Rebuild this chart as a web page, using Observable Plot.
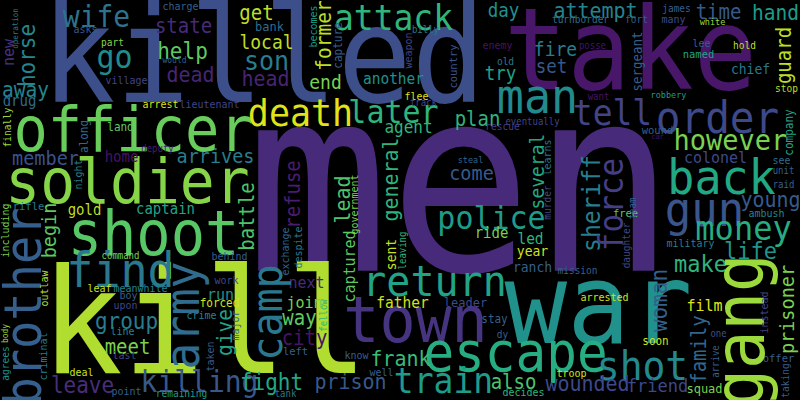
<!DOCTYPE html>
<html>
<head>
<meta charset="utf-8">
<script src="https://cdn.jsdelivr.net/npm/d3@7"></script>
<script src="https://cdn.jsdelivr.net/npm/@observablehq/plot@0.6"></script>
<style>
  html, body { margin: 0; padding: 0; background: #000; }
  #chart { width: 800px; height: 400px; overflow: hidden; }
</style>
</head>
<body>
<div id="chart"></div>
<script>
// [word, x, y, font size, colour shade (0..1 on viridis)]
const largeWords = [
  ["killed", 263, 59, 123, .24],
  ["take", 630, 52, 105, .06],
  ["men", 460, 188, 238, .12],
  ["war", 598, 307, 104, .50],
  ["kill", 204, 325, 136, .88],
  ["officer", 133, 131, 57, .77],
  ["soldier", 127, 182, 58, .82],
  ["shoot", 153, 235, 57, .74],
  ["find", 120, 271, 45, .40],
  ["town", 415, 321, 60, .15],
  ["return", 434, 282, 40, .58],
  ["escape", 515, 353, 51, .62],
  ["train", 443, 381, 33, .55],
  ["shot", 642, 366, 38, .47],
  ["order", 717, 118, 41, .22],
  ["man", 537, 97, 45, .48],
  ["tell", 612, 113, 33, .20],
  ["back", 721, 178, 45, .60],
  ["gun", 704, 210, 44, .26],
  ["death", 300, 113, 35, .95],
  ["later", 393, 112, 30, .65],
  ["attack", 393, 18, 33, .65],
  ["money", 743, 228, 32, .62],
  ["police", 491, 218, 30, .55],
  ["go", 114, 57, 30, .48]
];

const mediumWords = [
  ["wife", 96, 17, 28, .38],
  ["state", 183, 26, 19, .12],
  ["help", 182, 51, 21, .75],
  ["dead", 190, 75, 20, .10],
  ["away", 25, 90, 19.5, .45],
  ["drug", 19, 101, 14, .35],
  ["member", 45, 158, 18.5, .25],
  ["home", 121, 157, 14, .05],
  ["arrives", 215, 156, 18.5, .42],
  ["gold", 84, 210, 14, .90],
  ["captain", 165, 209, 14, .58],
  ["group", 126, 321, 21, .42],
  ["meet", 127, 347, 19, .80],
  ["leave", 82, 385, 21, .13],
  ["killing", 199, 382, 28, .27],
  ["run", 220, 294, 15, .50],
  ["join", 304, 302, 15, .80],
  ["next", 306, 282, 15, .12],
  ["way", 299, 318, 19, .75],
  ["city", 304, 338, 19, .05],
  ["fight", 271, 382, 21, .60],
  ["prison", 350, 382, 20, .27],
  ["father", 402, 302, 14.5, .93],
  ["frank", 400, 359, 20, .68],
  ["also", 513, 382, 19, .72],
  ["wounded", 587, 384, 20, .22],
  ["friend", 657, 386, 17, .22],
  ["get", 256, 13, 19, .90],
  ["local", 266, 42, 18, .90],
  ["son", 266, 61, 25, .42],
  ["head", 265, 79, 20, .10],
  ["end", 325, 82, 18, .80],
  ["another", 393, 78, 14.5, .50],
  ["agent", 408, 127, 16, .65],
  ["day", 503, 10, 17.5, .50],
  ["attempt", 595, 11, 20, .45],
  ["fire", 555, 49, 18, .42],
  ["set", 551, 66, 17.5, .27],
  ["try", 500, 73, 17.5, .57],
  ["plan", 477, 119, 19, .65],
  ["time", 718, 12, 19, .28],
  ["hand", 775, 13, 19.5, .55],
  ["however", 730, 140, 27, .80],
  ["colonel", 715, 157, 15, .22],
  ["young", 770, 200, 20, .28],
  ["life", 750, 251, 22, .52],
  ["make", 700, 264, 22, .65],
  ["come", 471, 173, 18.5, .28],
  ["ride", 491, 233, 14, .80],
  ["led", 530, 238, 14.5, .65],
  ["year", 532, 251, 13, .93],
  ["ranch", 532, 267, 13, .30],
  ["film", 704, 305, 15, .95],
  ["chief", 750, 69, 13, .40]
];

const smallWords = [
  ["asks", 85, 29, 10, .28],
  ["part", 112, 42, 9.5, .82],
  ["charge", 180, 6, 10, .30],
  ["would", 174, 60, 8, .30],
  ["village", 126, 80, 10, .20],
  ["arrest", 160, 104, 10, .95],
  ["lieutenant", 209, 104, 10, .20],
  ["land", 120, 127, 11, .75],
  ["deputy", 157, 148, 9, .08],
  ["rifle", 28, 206, 10.5, .42],
  ["command", 120, 255, 9, .80],
  ["leaf", 99, 288, 10, .92],
  ["meanwhile", 140, 288, 10, .45],
  ["boy", 128, 295, 10, .30],
  ["upon", 125, 305, 10, .20],
  ["line", 122, 331, 10, .45],
  ["last", 124, 355, 10, .20],
  ["deal", 81, 372, 10, .92],
  ["point", 126, 391, 10, .30],
  ["remaining", 181, 393, 9.5, .55],
  ["crime", 201, 315, 10, .45],
  ["work", 226, 280, 10, .22],
  ["forced", 219, 303, 11, .93],
  ["behind", 229, 256, 10, .30],
  ["left", 295, 351, 10.5, .30],
  ["tank", 285, 393, 9, .40],
  ["know", 356, 355, 10, .30],
  ["well", 381, 372, 10, .30],
  ["leader", 465, 302, 12, .22],
  ["stay", 494, 319, 11, .30],
  ["dy", 502, 334, 9.5, .30],
  ["troop", 571, 373, 10, .93],
  ["decides", 523, 392, 10, .65],
  ["mission", 577, 270, 9.5, .30],
  ["arrested", 604, 297, 10, .93],
  ["soon", 655, 341, 11, .92],
  ["one", 718, 333, 9, .25],
  ["offer", 778, 358, 10.5, .30],
  ["squad", 704, 388, 12, .80],
  ["steal", 470, 159.5, 8.5, .32],
  ["bank", 269, 26, 12, .35],
  ["billy", 425, 29, 9, .40],
  ["flee", 416, 96, 10, .95],
  ["track", 423, 102, 9, .22],
  ["eventually", 532, 121, 9, .20],
  ["rescue", 502, 126, 9.5, .18],
  ["enemy", 497, 45, 10, .05],
  ["old", 505, 61, 9.5, .40],
  ["posse", 592, 45, 9, .05],
  ["want", 598, 96, 9, .05],
  ["turnborder", 580, 19, 9.5, .35],
  ["fort", 636, 19, 9.5, .30],
  ["james", 676, 8, 9.5, .30],
  ["many", 673, 19, 10, .22],
  ["white", 712, 22, 8.5, .85],
  ["lee", 701, 43, 10, .30],
  ["named", 698, 54, 10.5, .58],
  ["hold", 744, 45, 9.5, .90],
  ["stop", 786, 88, 9.5, .90],
  ["robbery", 668, 95, 8.5, .55],
  ["wound", 657, 130, 10.5, .30],
  ["car", 657, 136, 7, .05],
  ["see", 781, 160, 10, .35],
  ["unit", 783, 170, 9, .30],
  ["raid", 783, 184, 9, .30],
  ["free", 625, 213, 10.5, .75],
  ["ambush", 766, 213, 10, .45],
  ["military", 690, 243, 10, .42]
];

// words written upward (rotated -90°)
const verticalWords = [
  ["horse", 27, 55, 21, .45],
  ["new", 8, 52, 15, .15],
  ["operation", 15, 28, 7.5, .40],
  ["finally", 7, 127, 9.5, .85],
  ["along", 84, 136, 11, .33],
  ["night", 78, 174, 10, .42],
  ["including", 5, 230, 10, .80],
  ["begin", 49, 230, 18.5, .75],
  ["brother", 24, 306, 47, .30],
  ["outlaw", 44, 288, 10, .90],
  ["criminal", 43, 356, 10, .42],
  ["body", 5, 333, 8, .85],
  ["agrees", 5, 363, 9.5, .50],
  ["army", 183, 315, 45, .35],
  ["give", 225, 332, 19.5, .58],
  ["major", 235, 325, 10, .30],
  ["taken", 210, 356, 10, .30],
  ["camp", 268, 312, 40, .40],
  ["exchange", 285, 251, 10, .32],
  ["despite", 298, 247, 10, .40],
  ["fellow", 323, 315, 9, .65],
  ["captured", 349, 266, 15, .75],
  ["government", 354, 204, 10, .80],
  ["lead", 343, 199, 20, .72],
  ["refuse", 293, 194, 19, .08],
  ["battle", 247, 216, 19, .72],
  ["general", 391, 179, 20, .65],
  ["sent", 391, 254, 13, .92],
  ["leaving", 402, 250, 9, .65],
  ["several", 537, 171, 18, .60],
  ["learns", 547, 157, 10, .38],
  ["murder", 547, 202, 9.5, .22],
  ["sheriff", 592, 203, 23, .42],
  ["force", 612, 204, 31, .18],
  ["team", 632, 208, 9, .30],
  ["daughter", 626, 245, 9.5, .22],
  ["woman", 659, 300, 21, .30],
  ["family", 699, 349, 19, .33],
  ["gang", 741, 330, 64, .85],
  ["prisoner", 787, 309, 18.5, .80],
  ["instead", 764, 312, 10, .20],
  ["taking", 785, 380, 9.5, .30],
  ["arrive", 715, 361, 9, .30],
  ["becomes", 313, 26, 10, .55],
  ["former", 324, 35, 19.5, .90],
  ["capture", 338, 45, 11, .30],
  ["weapon", 408, 50, 10, .20],
  ["country", 453, 66, 10.5, .25],
  ["sergeant", 637, 61, 12.5, .30],
  ["guard", 784, 55, 19, .90],
  ["company", 789, 132, 11, .58]
];

// the reference face is a little taller for its width than DejaVu Sans Mono:
// draw glyphs this much taller and squeeze them back to the same width
const glyphStretch = 1.08;

const toRow = rotate => ([word, x, y, size, shade]) => ({word, x, y, size, shade, rotate});
const rows = [...largeWords, ...mediumWords, ...smallWords].map(toRow(0))
  .concat(verticalWords.map(toRow(-90)));

const chart = Plot.plot({
  width: 800,
  height: 400,
  margin: 0,
  style: {background: "#000", overflow: "hidden"},
  x: {domain: [0, 800], range: [0, 800], axis: null},
  y: {domain: [0, 400], range: [0, 400], axis: null},
  color: {type: "linear", scheme: "viridis", domain: [0, 1]},
  marks: [
    Plot.text(rows, {
      x: "x",
      y: "y",
      text: "word",
      fontSize: d => d.size * glyphStretch,
      rotate: "rotate",
      fill: "shade",
      fontFamily: "DejaVu Sans Mono",
      textAnchor: "middle",
      lineAnchor: "middle"
    })
  ]
});
d3.select(chart).selectAll("text").each(function () {
  const t = this.getAttribute("transform");
  if (t) this.setAttribute("transform", `${t} scale(${1 / glyphStretch},1)`);
});
document.getElementById("chart").appendChild(chart);
</script>
</body>
</html>
